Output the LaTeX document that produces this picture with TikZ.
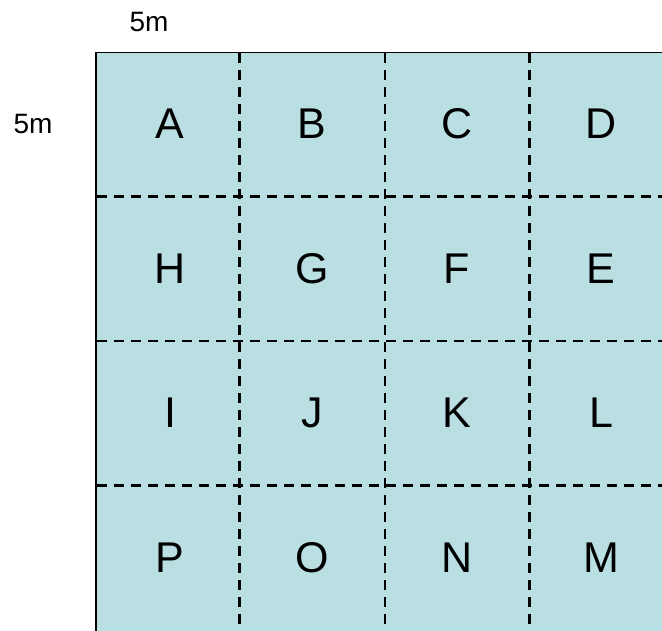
\documentclass[tikz,border=0pt]{standalone}
\usepackage{fontspec}
\setmainfont{Liberation Sans}
\definecolor{cellblue}{RGB}{185,223,227}
\begin{document}
\begin{tikzpicture}[x=1pt,y=-1pt,
  letter/.style={inner sep=0pt,font=\fontsize{43}{43}\selectfont},
  dimlabel/.style={inner sep=0pt,font=\fontsize{28}{28}\selectfont},
  gridline/.style={line width=2.2pt,dash pattern=on 10pt off 7pt}]
\useasboundingbox (0,0) rectangle (662,630);
\clip (0,0) rectangle (662,630);
\fill[cellblue] (96,52.5) rectangle (680,640);
\draw[line width=1.2pt] (96,680) -- (96,52.5) -- (680,52.5);
% dashed grid
\foreach \x in {239.5,385,529.5} {
  \draw[gridline] (\x,53) -- (\x,640);
}
\foreach \y in {196.5,341,485.5} {
  \draw[gridline] (96.5,\y) -- (680,\y);
}
% letters
\node[letter] (A) at (170,124) {A};
\node[letter] (B) at (312,124) {B};
\node[letter] (C) at (457,124) {C};
\node[letter] (D) at (601,124) {D};
\node[letter] (H) at (170,269) {H};
\node[letter] (G) at (312,269) {G};
\node[letter] (F) at (457,269) {F};
\node[letter] (E) at (601,269) {E};
\node[letter] (I) at (170,413) {I};
\node[letter] (J) at (312,413) {J};
\node[letter] (K) at (457,413) {K};
\node[letter] (L) at (601,413) {L};
\node[letter] (P) at (170,558) {P};
\node[letter] (O) at (312,558) {O};
\node[letter] (N) at (457,558) {N};
\node[letter] (M) at (601,558) {M};
% dimension labels
\node[dimlabel] (top5m) at (149,22) {5m};
\node[dimlabel] (left5m) at (33,124) {5m};
\end{tikzpicture}
\end{document}
